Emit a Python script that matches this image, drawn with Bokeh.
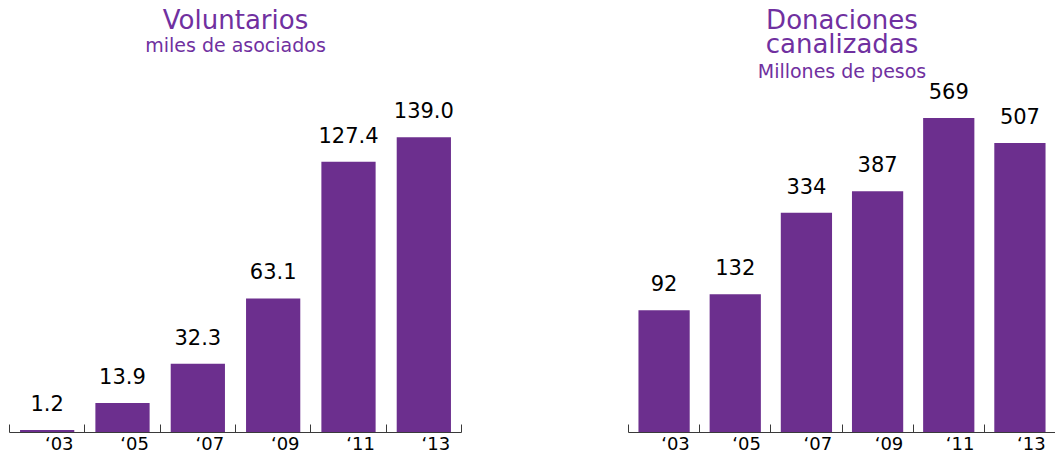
from bokeh.plotting import figure
from bokeh.layouts import row
from bokeh.models import Range1d, FixedTicker, ColumnDataSource
from bokeh.core.properties import value
from bokeh.embed import file_html
from bokeh.resources import INLINE

# ---- data ----
years = ["\u201803", "\u201805", "\u201807", "\u201809", "\u201811", "\u201813"]
voluntarios = [1.2, 13.9, 32.3, 63.1, 127.4, 139.0]
voluntarios_labels = ["1.2", "13.9", "32.3", "63.1", "127.4", "139.0"]
donaciones = [92, 132, 334, 387, 569, 507]
donaciones_labels = ["92", "132", "334", "387", "569", "507"]

left_titles = ["Voluntarios", "miles de asociados"]
right_titles = ["Donaciones", "canalizadas", "Millones de pesos"]

FONT = "DejaVu Sans"
BAR = "#6C2F8E"
TITLE = "#7030A0"
AXIS = "#3a3a3a"


def make(values, labels, width, bl, br, yr, titles):
    p = figure(width=width, height=456, x_range=Range1d(0, 600),
               y_range=Range1d(*yr), output_backend="svg", title=None,
               toolbar_location=None, y_axis_location=None,
               min_border_left=bl, min_border_right=br,
               min_border_top=0, min_border_bottom=0)
    n = len(values)
    xs = [i * 100 + 50 for i in range(n)]
    src = ColumnDataSource(dict(x=xs, top=values, label=labels))
    p.vbar(x="x", top="top", bottom=yr[0], width=72, source=src,
           fill_color=BAR, line_color=None)
    p.text(x="x", y="top", text="label", source=src, text_align="center",
           text_baseline="alphabetic", y_offset=-27,
           text_font=value(FONT), text_font_size="21px", text_color="black")
    for t, off, size in titles:
        p.text(x=[300], y=[yr[1]], text=[t], text_align="center",
               text_baseline="alphabetic", y_offset=off,
               text_font=value(FONT), text_font_size=size, text_color=TITLE)

    ticks = [i * 100 + 66 for i in range(n)]
    p.xaxis.ticker = FixedTicker(ticks=ticks, minor_ticks=[i * 100 for i in range(n + 1)])
    p.xaxis.major_label_overrides = {t: y for t, y in zip(ticks, years)}
    p.xaxis.major_tick_in = 0
    p.xaxis.major_tick_out = 0
    p.xaxis.minor_tick_in = 8
    p.xaxis.minor_tick_out = 0
    p.xaxis.minor_tick_line_color = AXIS
    p.xaxis.axis_line_color = AXIS
    p.xaxis.major_label_standoff = 0
    p.xaxis.major_label_text_font = FONT
    p.xaxis.major_label_text_font_size = "18px"
    p.xaxis.major_label_text_color = "black"
    p.xgrid.visible = False
    p.ygrid.visible = False
    p.outline_line_color = None
    return p


p1 = make(voluntarios, voluntarios_labels, 478, 9, 17, (0, 203.3),
          [(left_titles[0], 19, "26px"), (left_titles[1], 44, "19px")])
p2 = make(donaciones, donaciones_labels, 577, 150, 0, (-211, 860),
          [(right_titles[0], 19, "26px"), (right_titles[1], 43, "26px"),
           (right_titles[2], 70, "19px")])

layout = row(p1, p2)
open("out.html", "w").write(file_html(layout, INLINE))
